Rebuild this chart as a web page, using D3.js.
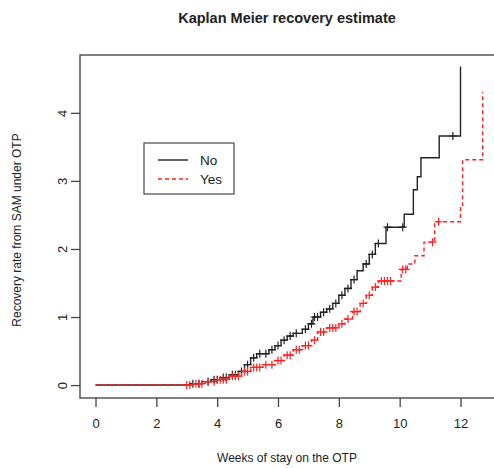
<!DOCTYPE html>
<html>
<head>
<meta charset="utf-8"/>
<title>Kaplan Meier recovery estimate</title>
<script src="https://d3js.org/d3.v7.min.js"></script>
<style>
  body { margin: 0; background: #fff; font-family: 'Liberation Sans', Arial, sans-serif; }
  text { fill: #222; }
</style>
</head>
<body>
<div id="chart"></div>
<script>
// ---- data ----
var noTimes  = [0, 3.1, 3.5, 3.8, 4.1, 4.4, 4.7, 4.9, 5.1, 5.3, 5.7, 5.9, 6.1, 6.3, 6.5, 6.8, 7.0, 7.15, 7.4, 7.6, 7.8, 8.0, 8.2, 8.4, 8.6, 8.8, 9.0, 9.2, 9.55, 10.15, 10.45, 10.58, 10.7, 11.3, 12.0];
var noHazard = [0, 0.02, 0.05, 0.08, 0.11, 0.15, 0.2, 0.3, 0.4, 0.46, 0.52, 0.58, 0.66, 0.72, 0.76, 0.82, 0.9, 1.0, 1.07, 1.12, 1.2, 1.32, 1.42, 1.55, 1.68, 1.78, 1.92, 2.08, 2.32, 2.51, 2.87, 3.06, 3.34, 3.66, 4.68];
var noCensor = [3.2, 3.4, 3.7, 3.9, 4.0, 4.2, 4.3, 4.5, 4.6, 4.8, 5.0, 5.2, 5.4, 5.6, 5.8, 6.0, 6.2, 6.4, 6.6, 6.9, 7.1, 7.2, 7.3, 7.5, 7.7, 7.9, 8.1, 8.3, 8.5, 8.9, 9.1, 9.3, 9.6, 10.1, 11.75];

var yesTimes  = [0, 3.2, 3.6, 4.0, 4.4, 4.8, 5.1, 5.5, 5.9, 6.2, 6.5, 6.8, 7.1, 7.3, 7.6, 8.0, 8.2, 8.45, 8.7, 8.9, 9.1, 9.3, 10.05, 10.25, 10.5, 10.8, 11.15, 12.0, 12.07, 12.73];
var yesHazard = [0, 0.02, 0.05, 0.08, 0.13, 0.2, 0.26, 0.3, 0.36, 0.44, 0.52, 0.58, 0.66, 0.78, 0.84, 0.9, 0.97, 1.08, 1.2, 1.32, 1.44, 1.53, 1.7, 1.78, 1.9, 2.1, 2.4, 2.62, 3.31, 4.31];
var yesCensor = [3.0, 3.1, 3.3, 3.4, 3.5, 3.7, 3.9, 4.1, 4.2, 4.3, 4.5, 4.6, 4.7, 4.9, 5.0, 5.2, 5.3, 5.4, 5.6, 5.8, 6.0, 6.1, 6.3, 6.4, 6.6, 6.7, 6.9, 7.0, 7.2, 7.4, 7.5, 7.7, 7.8, 7.9, 8.1, 8.3, 8.5, 8.6, 8.8, 9.0, 9.2, 9.4, 9.5, 9.6, 9.7, 10.1, 10.2, 11.08, 11.28];

var xTicks = [0, 2, 4, 6, 8, 10, 12];
var yTicks = [0, 1, 2, 3, 4];
var legendLabels = ["No", "Yes"];

// ---- set-up ----
var width = 494, height = 468;
var plot = {left: 80, top: 55, right: 497, bottom: 398};

var x = d3.scaleLinear().domain([-0.51, 13.2]).range([plot.left, plot.right]);
var y = d3.scaleLinear().domain([-0.19, 4.85]).range([plot.bottom, plot.top]);

var svg = d3.select("#chart").append("svg")
  .attr("width", width).attr("height", height);

// title
svg.append("text")
  .attr("x", 287).attr("y", 23)
  .attr("text-anchor", "middle")
  .style("font-size", "14.5px").style("font-weight", "bold")
  .text("Kaplan Meier recovery estimate");

// box
svg.append("rect")
  .attr("x", plot.left).attr("y", plot.top)
  .attr("width", plot.right - plot.left).attr("height", plot.bottom - plot.top)
  .attr("fill", "none").attr("stroke", "#555").attr("stroke-width", 1.5);

// x axis
var xAxis = svg.append("g")
  .attr("transform", "translate(0," + plot.bottom + ")")
  .call(d3.axisBottom(x).tickValues(xTicks).tickFormat(d3.format("d")).tickSize(9).tickPadding(12));
xAxis.select(".domain").remove();
xAxis.selectAll("line").attr("stroke", "#444").attr("stroke-width", 1.3);
xAxis.selectAll("text").style("font-size", "13px").style("font-family", "'Liberation Sans', Arial, sans-serif").attr("fill", "#333");

// y axis (R style: rotated labels)
var yAxis = svg.append("g")
  .attr("transform", "translate(" + plot.left + ",0)")
  .call(d3.axisLeft(y).tickValues(yTicks).tickFormat(d3.format("d")).tickSize(9));
yAxis.select(".domain").remove();
yAxis.selectAll("line").attr("stroke", "#444").attr("stroke-width", 1.3);
yAxis.selectAll("text")
  .attr("x", null).attr("dy", null)
  .attr("text-anchor", "middle")
  .attr("transform", "translate(-18,0) rotate(-90)")
  .attr("dy", "0.35em")
  .style("font-size", "13px").style("font-family", "'Liberation Sans', Arial, sans-serif").attr("fill", "#333");

// axis titles
svg.append("text")
  .attr("x", 287).attr("y", 462)
  .attr("text-anchor", "middle")
  .style("font-size", "12px")
  .text("Weeks of stay on the OTP");

svg.append("text")
  .attr("transform", "translate(21," + 230 + ") rotate(-90)")
  .attr("text-anchor", "middle")
  .style("font-size", "12px")
  .text("Recovery rate from SAM under OTP");

// ---- curves ----
var line = d3.line()
  .x(function(d) { return x(d[0]); })
  .y(function(d) { return y(d[1]); })
  .curve(d3.curveStepAfter);

function stepValue(times, haz, t) {
  var i = d3.bisectRight(times, t) - 1;
  return haz[Math.max(i, 0)];
}

var groups = [
  {name: legendLabels[0], times: noTimes, haz: noHazard, censor: noCensor, color: "#222", dash: null},
  {name: legendLabels[1], times: yesTimes, haz: yesHazard, censor: yesCensor, color: "#ff2020", dash: "4,3"}
];

groups.forEach(function(g) {
  var pts = g.times.map(function(t, i) { return [t, g.haz[i]]; });
  svg.append("path")
    .attr("d", line(pts))
    .attr("fill", "none")
    .attr("stroke", g.color)
    .attr("stroke-width", 1.4)
    .attr("stroke-dasharray", g.dash);

  svg.append("g").selectAll("path")
    .data(g.censor)
    .enter().append("path")
    .attr("d", function(t) {
      var cx = x(t), cy = y(stepValue(g.times, g.haz, t));
      return "M" + (cx - 4) + "," + cy + "H" + (cx + 4) + "M" + cx + "," + (cy - 4) + "V" + (cy + 4);
    })
    .attr("stroke", g.color)
    .attr("stroke-width", 1.2);
});

// ---- legend ----
var legend = svg.append("g");
legend.append("rect")
  .attr("x", 144).attr("y", 143).attr("width", 90).attr("height", 51)
  .attr("fill", "#fff").attr("stroke", "#555").attr("stroke-width", 1.3);

groups.forEach(function(g, i) {
  var ly = 160 + i * 19;
  legend.append("line")
    .attr("x1", 158).attr("x2", 188).attr("y1", ly).attr("y2", ly)
    .attr("stroke", g.color).attr("stroke-width", 1.4)
    .attr("stroke-dasharray", g.dash);
  legend.append("text")
    .attr("x", 200).attr("y", ly).attr("dy", "0.35em")
    .style("font-size", "13.5px")
    .text(g.name);
});
</script>
</body>
</html>
